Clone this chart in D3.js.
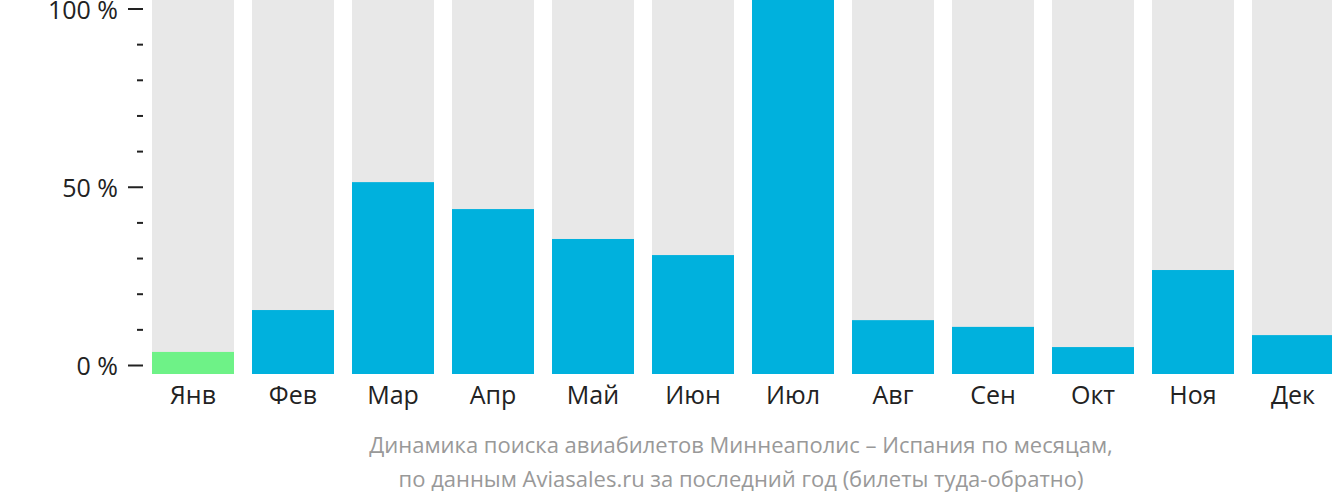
<!DOCTYPE html>
<html><head><meta charset="utf-8">
<script src="https://cdn.jsdelivr.net/npm/d3@7"></script>
<style>
html,body{margin:0;padding:0;background:#fff;}
svg{display:block;font-family:"Open Sans",sans-serif;}
</style></head>
<body>
<svg id="c" width="1332" height="502"></svg>
<script>
const months = ["Янв","Фев","Мар","Апр","Май","Июн","Июл","Авг","Сен","Окт","Ноя","Дек"];
const values = [5.9, 17.1, 51.3, 44.1, 36.1, 31.8, 100, 14.4, 12.6, 7.2, 27.8, 10.4];
const majorTicks = [0, 50, 100];
const minorTicks = [10, 20, 30, 40, 60, 70, 80, 90];
const captionLines = [
  "Динамика поиска авиабилетов Миннеаполис – Испания по месяцам,",
  "по данным Aviasales.ru за последний год (билеты туда-обратно)"
];

const svg = d3.select("#c");
const x = d3.scaleBand().domain(months).range([143, 1343]).paddingInner(0.18).paddingOuter(0.09);
const yBar = d3.scaleLinear().domain([0, 100]).range([374, 0]);
const yAxisScale = d3.scaleLinear().domain([0, 100]).range([365, 8.5]);

// background bars
svg.append("g").selectAll("rect").data(months).join("rect")
  .attr("x", d => x(d)).attr("width", x.bandwidth())
  .attr("y", yBar(100)).attr("height", yBar(0) - yBar(100))
  .attr("fill", "#e8e8e8");

// value bars
svg.append("g").selectAll("rect").data(values).join("rect")
  .attr("x", (d, i) => x(months[i])).attr("width", x.bandwidth())
  .attr("y", d => yBar(d)).attr("height", d => yBar(0) - yBar(d))
  .attr("fill", (d, i) => i === 0 ? "#6ef287" : "#00b1dd");

// y axis major
const gMaj = svg.append("g").attr("transform", "translate(143,0)")
  .call(d3.axisLeft(yAxisScale).tickValues(majorTicks).tickSize(15).tickPadding(10).tickFormat(d => d + " %"));
gMaj.select(".domain").remove();
gMaj.selectAll("line").attr("stroke", "#222").attr("stroke-width", 2);
gMaj.selectAll("text").attr("font-size", 25).attr("fill", "#222").attr("dy", "0.38em")
  .attr("font-family", "'Open Sans', sans-serif");

// y axis minor
const gMin = svg.append("g").attr("transform", "translate(143,0)")
  .call(d3.axisLeft(yAxisScale).tickValues(minorTicks).tickSize(6).tickFormat(""));
gMin.select(".domain").remove();
gMin.selectAll("line").attr("stroke", "#222").attr("stroke-width", 2);

// x labels
const gx = svg.append("g").attr("transform", "translate(0,374)")
  .call(d3.axisBottom(x).tickSize(0).tickPadding(12));
gx.select(".domain").remove();
gx.selectAll("text").attr("font-size", 25).attr("fill", "#222").attr("font-family", "'Open Sans', sans-serif");

// caption
svg.append("g").selectAll("text").data(captionLines).join("text")
  .attr("x", 741).attr("y", (d, i) => 453 + i * 34)
  .attr("text-anchor", "middle").attr("font-size", 22).attr("fill", "#999")
  .attr("font-family", "'Open Sans', sans-serif")
  .text(d => d);
</script>
</body></html>
